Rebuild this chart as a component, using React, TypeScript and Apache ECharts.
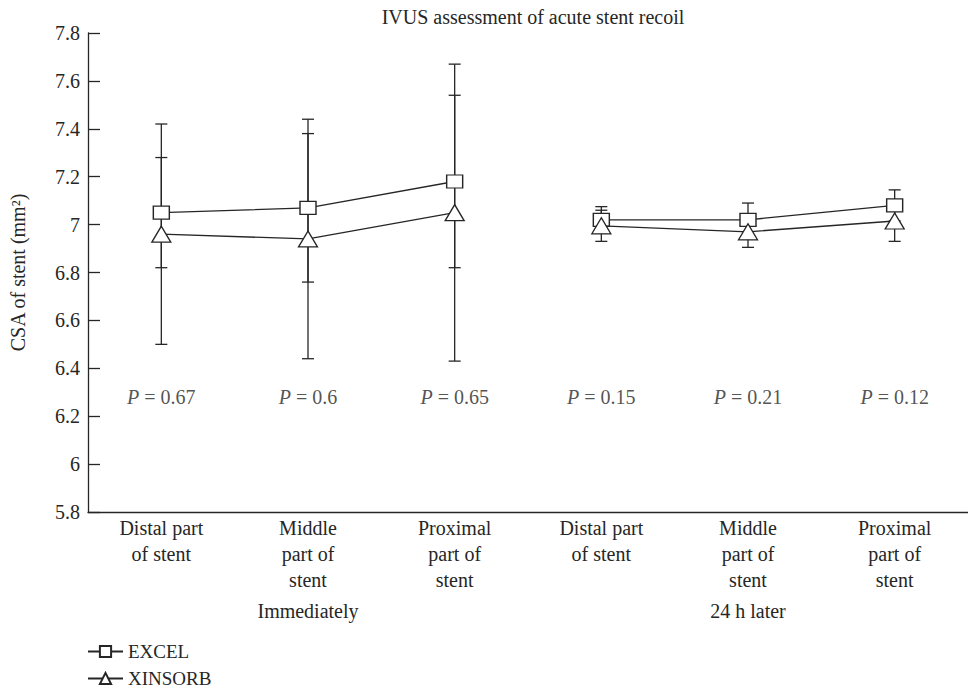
import React, { useEffect, useRef } from "react";
import * as echarts from "echarts";

const categories = [
  "Distal part\nof stent",
  "Middle\npart of\nstent",
  "Proximal\npart of\nstent",
  "Distal part\nof stent",
  "Middle\npart of\nstent",
  "Proximal\npart of\nstent",
];
const groups = ["Immediately", "24 h later"];
const seriesNames = ["EXCEL", "XINSORB"];
const excelMean = [7.05, 7.07, 7.18, 7.02, 7.02, 7.08];
const excelSD = [0.23, 0.31, 0.36, 0.055, 0.07, 0.065];
const xinsorbMean = [6.96, 6.94, 7.05, 6.995, 6.97, 7.015];
const xinsorbSD = [0.46, 0.5, 0.62, 0.065, 0.065, 0.085];
const pValues = ["0.67", "0.6", "0.65", "0.15", "0.21", "0.12"];
const pLabelLevel = 6.28;
const yTicks = { min: 5.8, max: 7.8, interval: 0.2 };

const INK = "#262626";
const FONT = "'Liberation Serif', 'DejaVu Serif', serif";
const FS = 20;

function split(arr: number[], from: number, to: number) {
  return arr.map((v, i) => (i >= from && i < to ? v : "-"));
}

function errorSeries(name: string, mean: number[], sd: number[]) {
  return {
    type: "custom",
    name: name + "-err",
    z: 1,
    silent: true,
    data: mean.map((m, i) => [i, m - sd[i], m + sd[i]]),
    renderItem: (params: any, api: any) => {
      const i = api.value(0);
      const lo = api.coord([i, api.value(1)]);
      const hi = api.coord([i, api.value(2)]);
      const hw = 6;
      const style = { stroke: INK, lineWidth: 1.3 };
      return {
        type: "group",
        children: [
          { type: "line", shape: { x1: lo[0], y1: lo[1], x2: hi[0], y2: hi[1] }, style },
          { type: "line", shape: { x1: lo[0] - hw, y1: lo[1], x2: lo[0] + hw, y2: lo[1] }, style },
          { type: "line", shape: { x1: hi[0] - hw, y1: hi[1], x2: hi[0] + hw, y2: hi[1] }, style },
        ],
      };
    },
  };
}

function lineSeries(name: string, data: any[], symbol: string, size: any, z: number) {
  return {
    type: "line",
    name,
    data,
    symbol,
    symbolSize: size,
    showAllSymbol: true,
    z,
    lineStyle: { color: INK, width: 1.3 },
    itemStyle: { color: "#ffffff", borderColor: INK, borderWidth: 1.3 },
  };
}

function legendFor(name: string, top: number) {
  return {
    orient: "horizontal",
    left: 87,
    top,
    padding: 0,
    itemWidth: 35,
    itemHeight: 14,
    textStyle: { fontFamily: FONT, fontSize: 19, color: INK },
    data: [name],
  };
}

export default function App() {
  const ref = useRef<HTMLDivElement>(null);
  useEffect(() => {
    if (!ref.current) return;
    const chart = echarts.init(ref.current, null, { renderer: "svg" });
    const option: any = {
      animation: false,
      backgroundColor: "#ffffff",
      textStyle: { fontFamily: FONT, color: INK },
      title: {
        text: "IVUS assessment of acute stent recoil",
        left: 528,
        textAlign: "center",
        top: 2,
        textStyle: { fontFamily: FONT, fontSize: FS, fontWeight: "normal", color: INK },
      },
      legend: [legendFor(seriesNames[0], 642), legendFor(seriesNames[1], 669)],
      grid: { left: 86, right: -13, top: 33, bottom: 178, containLabel: false },
      xAxis: [
        {
          type: "category",
          data: categories,
          boundaryGap: true,
          axisLine: { lineStyle: { color: INK, width: 1.3 } },
          axisTick: { inside: true, length: 10, lineStyle: { color: INK, width: 1.3 } },
          axisLabel: { fontFamily: FONT, fontSize: FS, lineHeight: 26, color: INK, margin: 3, interval: 0 },
        },
        {
          type: "category",
          data: groups,
          position: "bottom",
          gridIndex: 0,
          axisLine: { show: false },
          axisTick: { show: false },
          axisLabel: { fontFamily: FONT, fontSize: FS, color: INK, margin: 89, interval: 0 },
        },
      ],
      yAxis: {
        type: "value",
        min: yTicks.min,
        max: yTicks.max,
        interval: yTicks.interval,
        name: "CSA of stent (mm²)",
        nameLocation: "middle",
        nameGap: 60,
        nameTextStyle: { fontFamily: FONT, fontSize: FS, color: INK },
        splitLine: { show: false },
        axisLine: { show: true, lineStyle: { color: INK, width: 1.3 } },
        axisTick: { show: true, inside: true, length: 12, lineStyle: { color: INK, width: 1.3 } },
        axisLabel: {
          fontFamily: FONT,
          fontSize: FS,
          color: INK,
          margin: 8,
          formatter: (v: number) => String(+v.toFixed(1)),
        },
      },
      series: [
        errorSeries(seriesNames[0], excelMean, excelSD),
        errorSeries(seriesNames[1], xinsorbMean, xinsorbSD),
        lineSeries(seriesNames[0], split(excelMean, 0, 3), "rect", [16, 13], 3),
        lineSeries(seriesNames[0], split(excelMean, 3, 6), "rect", [16, 13], 3),
        lineSeries(seriesNames[1], split(xinsorbMean, 0, 3), "triangle", [19, 16], 4),
        lineSeries(seriesNames[1], split(xinsorbMean, 3, 6), "triangle", [19, 16], 4),
        {
          type: "scatter",
          name: "p",
          symbolSize: 0,
          silent: true,
          data: pValues.map((p, i) => ({ value: [i, pLabelLevel], name: p })),
          label: {
            show: true,
            position: "inside",
            formatter: (d: any) => "{i|P} = " + d.name,
            fontFamily: FONT,
            fontSize: FS,
            color: INK,
            rich: { i: { fontStyle: "italic", fontFamily: FONT, fontSize: FS, color: INK } },
          },
        },
      ],
    };
    chart.setOption(option);
    return () => chart.dispose();
  }, []);
  return (
    <div
      ref={ref}
      style={{ position: "fixed", left: 0, top: 0, width: 968, height: 690, background: "#fff" }}
    />
  );
}
